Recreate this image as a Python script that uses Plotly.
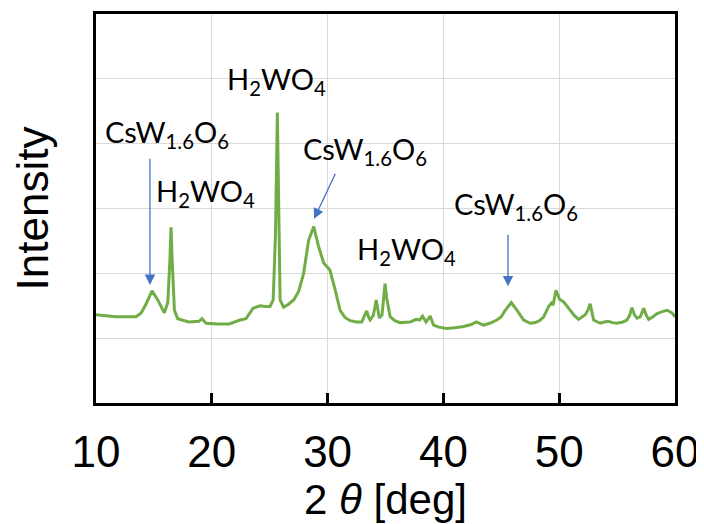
import plotly.graph_objects as go

# 2-theta (deg) and intensity (arbitrary units)
two_theta = [10.0, 11.0, 11.73, 12.6, 13.45, 13.9, 14.3, 14.84, 15.33, 15.9, 16.2, 16.38, 16.48,
             16.58, 16.77, 17.05, 18.0, 18.9, 19.15, 19.4, 19.5, 20.5, 21.5, 22.44, 22.95,
             23.56, 24.16, 24.6, 25.03, 25.3, 25.5, 25.66, 25.8, 25.9, 26.2, 26.6, 27.07,
             27.5, 27.93, 28.36, 28.8, 29.23, 29.66, 30.2, 30.66, 31.08, 31.5, 31.95, 32.5,
             32.95, 33.2, 33.38, 33.55, 33.67, 33.95, 34.2, 34.47, 34.7, 34.96, 35.1, 35.4,
             35.8, 36.27, 37.13, 37.65, 37.95, 38.2, 38.5, 38.86, 39.15, 39.6, 40.3, 41.0,
             41.74, 42.4, 42.83, 43.47, 44.0, 44.62, 45.0, 45.34, 45.86, 46.36, 46.93, 47.5,
             47.94, 48.3, 48.66, 49.1, 49.33, 49.47, 49.72, 50.03, 50.38, 50.95, 51.3,
             51.67, 52.25, 52.5, 52.68, 52.97, 53.54, 53.9, 54.26, 54.6, 54.98, 55.5,
             55.85, 56.1, 56.28, 56.5, 56.72, 57.0, 57.3, 57.5, 57.73, 58.1, 58.45, 58.9,
             59.31, 59.74, 60.0]
intensity = [1.36, 1.34, 1.33, 1.33, 1.33, 1.39, 1.52, 1.73, 1.59, 1.39, 1.55, 2.2, 2.71,
             2.2, 1.43, 1.30, 1.25, 1.26, 1.30, 1.25, 1.23, 1.22, 1.22, 1.28, 1.30,
             1.46, 1.50, 1.49, 1.49, 1.59, 2.6, 4.48, 2.6, 1.59, 1.48, 1.52, 1.59,
             1.72, 2.0, 2.51, 2.72, 2.41, 2.16, 2.05, 1.74, 1.43, 1.32, 1.27, 1.25,
             1.25, 1.35, 1.42, 1.32, 1.28, 1.35, 1.59, 1.31, 1.36, 1.84, 1.62, 1.33,
             1.27, 1.24, 1.25, 1.29, 1.28, 1.34, 1.25, 1.34, 1.20, 1.17, 1.15, 1.16,
             1.18, 1.21, 1.25, 1.20, 1.23, 1.28, 1.33, 1.43, 1.55, 1.43, 1.28, 1.23,
             1.24, 1.27, 1.33, 1.49, 1.54, 1.51, 1.74, 1.60, 1.56, 1.43, 1.35,
             1.29, 1.36, 1.44, 1.53, 1.28, 1.23, 1.25, 1.26, 1.24, 1.23, 1.25,
             1.28, 1.36, 1.47, 1.36, 1.31, 1.33, 1.46, 1.36, 1.29, 1.33, 1.38, 1.41,
             1.43, 1.39, 1.33]

x_ticks = [10, 20, 30, 40, 50, 60]
x_tick_labels = ["10", "20", "30", "40", "50", "60"]

phase_labels = ["CsW<sub>1.6</sub>O<sub>6</sub>", "H<sub>2</sub>WO<sub>4</sub>",
                "H<sub>2</sub>WO<sub>4</sub>", "CsW<sub>1.6</sub>O<sub>6</sub>",
                "H<sub>2</sub>WO<sub>4</sub>", "CsW<sub>1.6</sub>O<sub>6</sub>"]

fig = go.Figure()
fig.add_trace(go.Scatter(x=two_theta, y=intensity, mode="lines",
                         line=dict(color="#70AD47", width=3), showlegend=False))

label_pos = [(16.17, 4.16), (19.46, 3.24), (25.59, 4.98), (33.27, 3.90), (36.81, 2.35), (46.31, 3.05)]
for txt, (lx, ly) in zip(phase_labels, label_pos):
    fig.add_annotation(x=lx, y=ly, xref="x", yref="y", text=txt, showarrow=False,
                       font=dict(family="Lato", size=29, color="#000000"),
                       xanchor="center", yanchor="middle")

arrows = [((14.66, 1.82), (14.66, 3.79)), ((28.83, 2.84), (30.73, 3.56)), ((45.58, 1.80), (45.58, 2.62))]
for (tx, ty), (sx, sy) in arrows:
    fig.add_annotation(x=tx, y=ty, ax=sx, ay=sy, xref="x", yref="y", axref="x", ayref="y",
                       text="", showarrow=True, arrowhead=2, arrowsize=1.6, arrowwidth=1.3,
                       arrowcolor="#4472C4", standoff=0, startstandoff=0)

# the page body has an 8px default margin, so the figure is 8px smaller than the window
fig.update_layout(
    width=696, height=516,
    margin=dict(l=88, r=29, t=6, b=121),
    paper_bgcolor="white", plot_bgcolor="white",
    font=dict(family="Liberation Sans, Arial", color="#000000"),
)
fig.update_xaxes(range=[10, 60], tickmode="array", tickvals=x_ticks, ticktext=x_tick_labels,
                 tickfont=dict(size=44, family="Liberation Sans"),
                 ticks="inside", ticklen=10, tickwidth=3, tickcolor="#000000",
                 showgrid=True, gridcolor="#D9D9D9", gridwidth=1,
                 showline=True, linecolor="#000000", linewidth=3, mirror=True,
                 zeroline=False, ticklabelstandoff=8, automargin=False,
                 title=dict(text="2 <i>θ</i> [deg]", font=dict(size=42, family="Liberation Sans"),
                            standoff=0))
fig.update_yaxes(range=[0, 6], tickmode="linear", tick0=0, dtick=1, showticklabels=False,
                 ticks="", showgrid=True, gridcolor="#D9D9D9", gridwidth=1,
                 showline=True, linecolor="#000000", linewidth=3, mirror=True, zeroline=False,
                 automargin=False,
                 title=dict(text="Intensity", font=dict(size=44, family="Liberation Sans"),
                            standoff=31))

fig.write_html("out.html")
